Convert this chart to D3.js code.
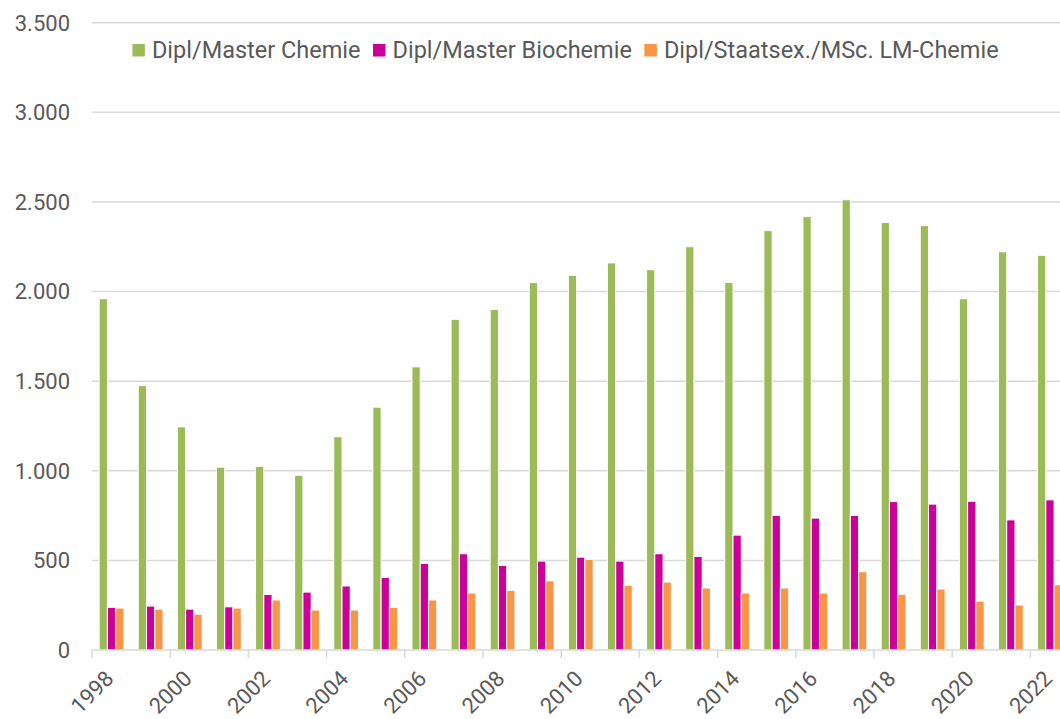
<!DOCTYPE html>
<html>
<head>
<meta charset="utf-8">
<script src="https://cdn.jsdelivr.net/npm/d3@7"></script>
<style>
  html, body { margin: 0; padding: 0; background: #fff; overflow: hidden; }
  svg { display: block; font-family: Roboto, "Noto Sans", sans-serif; }
</style>
</head>
<body>
<svg id="chart" width="1060" height="719"></svg>
<script>
const years = ["1998","1999","2000","2001","2002","2003","2004","2005","2006","2007","2008","2009","2010","2011","2012","2013","2014","2015","2016","2017","2018","2019","2020","2021","2022"];
const seriesNames = ["Dipl/Master Chemie", "Dipl/Master Biochemie", "Dipl/Staatsex./MSc. LM-Chemie"];
const chemie =     [1960,1475,1245,1020,1025,975,1190,1355,1580,1845,1900,2050,2090,2160,2122,2250,2050,2340,2418,2512,2385,2368,1960,2222,2202];
const biochemie =  [238,245,228,241,310,323,357,405,483,537,472,496,518,496,537,522,641,751,736,751,828,814,830,726,838];
const lmChemie =   [234,228,200,234,279,223,223,238,279,318,333,386,505,361,379,346,318,346,318,437,311,340,273,251,364];
const yTicks = [0,500,1000,1500,2000,2500,3000,3500];
const xTickLabels = ["1998","2000","2002","2004","2006","2008","2010","2012","2014","2016","2018","2020","2022"];
const colors = ["#9BBB59", "#CC0099", "#F79646"];

const values = [chemie, biochemie, lmChemie];
const data = years.map((yr, i) => ({ year: yr, vals: values.map(v => v[i]) }));

const svg = d3.select("#chart");
const plotLeft = 92, plotBottom = 650, plotTop = 22.7;
const step = 39.1;
const plotRight = plotLeft + step * years.length;
const textColor = "#595959";
const gridColor = "#d9d9d9";
const locale = d3.formatLocale({decimal: ",", thousands: ".", grouping: [3], currency: ["", "€"]});
const fmt = locale.format(",.0f");

const y = d3.scaleLinear().domain([0, 3500]).range([plotBottom, plotTop]);
const x0 = d3.scaleBand().domain(years).range([plotLeft, plotRight]).paddingInner(0).paddingOuter(0);
const groupW = 24.8;
const x1 = d3.scaleBand().domain([0,1,2]).range([(step - groupW) / 2, (step + groupW) / 2]);

// gridlines
svg.append("g").selectAll("line").data(yTicks.filter(d => d > 0)).join("line")
  .attr("x1", plotLeft).attr("x2", 1060)
  .attr("y1", d => y(d)).attr("y2", d => y(d))
  .attr("stroke", gridColor).attr("stroke-width", 1.5);

// y labels
svg.append("g").selectAll("text").data(yTicks).join("text")
  .attr("x", 70).attr("y", d => y(d)).attr("dy", "0.36em")
  .attr("text-anchor", "end")
  .attr("font-size", 22).attr("fill", textColor)
  .text(d => fmt(d));

// bars
const groups = svg.append("g").selectAll("g").data(data).join("g")
  .attr("transform", d => `translate(${x0(d.year)},0)`);
groups.selectAll("rect").data(d => d.vals.map((v, k) => ({ v, k }))).join("rect")
  .attr("x", d => x1(d.k))
  .attr("width", x1.bandwidth())
  .attr("y", d => y(d.v))
  .attr("height", d => y(0) - y(d.v))
  .attr("fill", d => colors[d.k])
  .attr("stroke", "#fff").attr("stroke-width", 1);

// x axis line and ticks
svg.append("line").attr("x1", plotLeft).attr("x2", 1060).attr("y1", plotBottom).attr("y2", plotBottom)
  .attr("stroke", gridColor).attr("stroke-width", 1.5);
const tickYears = years.filter((d, i) => i % 2 === 0);
svg.append("g").selectAll("line").data(tickYears).join("line")
  .attr("x1", d => x0(d)).attr("x2", d => x0(d))
  .attr("y1", plotBottom).attr("y2", plotBottom + 8)
  .attr("stroke", gridColor).attr("stroke-width", 1.5);

// x labels
svg.append("g").selectAll("text").data(xTickLabels).join("text")
  .attr("transform", d => `translate(${x0(d) + step / 2 + 3.5},${plotBottom + 30}) rotate(-45)`)
  .attr("text-anchor", "end")
  .attr("font-size", 22).attr("fill", textColor)
  .text(d => d);

// legend
const legend = svg.append("g");
let lx = 0;
seriesNames.forEach((name, i) => {
  const g = legend.append("g");
  g.append("rect").attr("x", 0).attr("y", 44).attr("width", 12.5).attr("height", 12.5).attr("fill", colors[i]);
  const t = g.append("text").attr("x", 19.5).attr("y", 58.3).attr("font-size", 23.5).attr("fill", textColor).text(name);
  const w = t.node().getComputedTextLength();
  g.attr("transform", `translate(${lx},0)`);
  lx += 19.5 + w + 12.5;
});
const totalW = lx - 12.5;
legend.attr("transform", `translate(${(133 + 998) / 2 - totalW / 2},0)`);
</script>
</body>
</html>
